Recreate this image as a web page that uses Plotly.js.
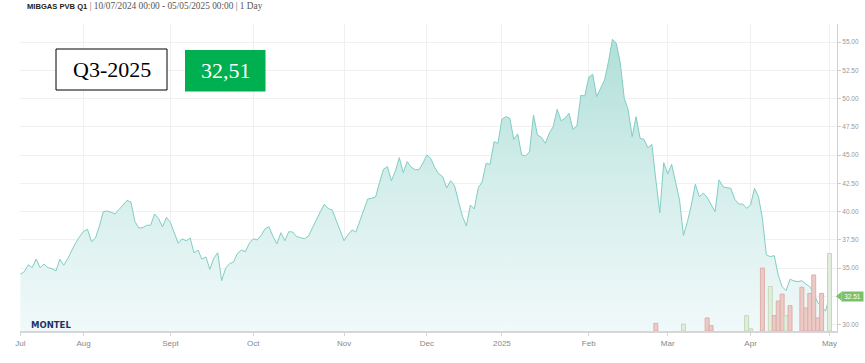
<!DOCTYPE html>
<html>
<head>
<meta charset="utf-8">
<script src="https://cdn.plot.ly/plotly-3.0.1.min.js"></script>
<style>
html,body{margin:0;padding:0;background:#fff;}
#chart{width:865px;height:363px;}
</style>
</head>
<body>
<div id="chart"></div>
<script>
// ---- data ----
const startDate = '2024-07-10';
const endDate = '2025-05-02';
const holidays = ['2024-12-24','2024-12-25','2024-12-26','2025-01-01','2025-04-18','2025-04-21','2025-05-01'];
const monthLabels = ['Jul','Aug','Sept','Oct','Nov','Dec','2025','Feb','Mar','Apr','May'];
const prices = [
34.46,34.69,35.31,35.05,35.81,35.04,35.37,35.04,34.96,34.75,
35.79,35.26,35.85,36.6,37.25,37.8,38.25,38.44,37.35,37.65,
38.7,40.0,40.06,39.95,39.8,40.2,40.6,41.0,40.85,39.15,
38.55,38.6,38.8,38.8,39.8,39.4,38.65,39.5,39.05,38.1,
37.2,37.6,37.41,37.67,36.35,36.6,35.8,36.0,34.9,35.88,
36.37,33.9,35.0,35.4,35.55,36.3,36.6,36.46,37.2,37.6,
37.5,37.9,38.5,38.67,37.8,37.15,38.14,37.43,38.23,38.2,
37.8,37.7,37.6,37.85,38.6,39.25,40.0,40.65,40.28,40.15,
39.3,38.45,37.43,37.95,38.38,38.2,39.2,40.2,41.12,41.19,
41.3,42.6,43.75,43.98,42.74,43.6,44.78,43.45,44.43,43.95,
43.72,43.72,44.3,45.02,44.7,43.9,43.35,43.1,42.1,42.74,
42.3,40.9,39.6,38.73,40.59,40.24,42.1,42.65,44.28,44.19,
46.19,46.05,48.18,48.41,48.27,46.4,46.88,45.02,44.93,45.31,
48.56,46.79,46.58,46.05,46.94,47.52,49.06,48.05,48.27,48.71,
47.29,47.58,50.3,50.24,51.89,52.16,50.18,50.92,51.65,53.27,
55.26,54.9,53.13,50.04,49.0,46.64,48.41,46.5,46.4,45.66,
45.96,42.81,39.91,44.34,43.34,44.19,42.65,41.04,37.9,39.12,
40.59,42.42,41.33,41.63,41.27,40.59,40.0,42.81,42.21,42.12,
42.07,41.1,40.68,40.68,40.3,40.59,42.07,41.33,39.42,36.17,
36.02,36.11,34.4,33.36,33.01,34.02,33.87,33.81,33.89,33.6,
33.36,32.83,31.95,31.59,31.2,32.51
];
const yTicks = [30,35,37.5,40,42.5,45,47.5,50,52.5,55];
const hiddenGrid = [32.5];
const volDates = ['2025-02-26','2025-03-07','2025-03-17','2025-03-18','2025-03-31','2025-04-01',
  '2025-04-04','2025-04-08','2025-04-09','2025-04-10','2025-04-11','2025-04-14','2025-04-15',
  '2025-04-22','2025-04-23','2025-04-24','2025-04-25','2025-04-28','2025-04-29','2025-05-02'];
const volValues = [10,9,17,7,20,3,82,58,20,39,48,20,33,57,30,49,73,17,49,101];
const volSide = ['down','up','down','down','up','up','down','up','down','down','down','up','down',
  'down','down','down','down','down','down','up'];
const contractLabel = 'Q3-2025';
const lastPrice = 32.51;
const lastPriceText = '32,51';
const titleMain = 'MIBGAS PVB Q1';
const titleRest = ' | 10/07/2024 00:00 - 05/05/2025 00:00 | 1 Day';

// ---- trading-day calendar ----
const dates = [];
{
  let d = new Date(startDate + 'T00:00:00Z');
  const end = new Date(endDate + 'T00:00:00Z');
  while (d <= end) {
    const s = d.toISOString().slice(0,10);
    const wd = d.getUTCDay();
    if (wd !== 0 && wd !== 6 && holidays.indexOf(s) < 0) dates.push(s);
    d = new Date(d.getTime() + 86400000);
  }
}
const tickvals = [];
dates.forEach((s,i)=>{ if (i===0 || s.slice(0,7)!==dates[i-1].slice(0,7)) tickvals.push(s); });

// ---- geometry helpers (pixel -> paper) ----
const W = 865, H = 363, ML = 20, MR = 28, MT = 24, MB = 32;
const PW = W-ML-MR, PH = H-MT-MB;
const px = x => (x-ML)/PW;
const py = y => (H-MB-y)/PH;

const upFill = 'rgb(226,237,221)', upLine = 'rgb(196,216,188)';
const dnFill = 'rgb(236,203,199)', dnLine = 'rgb(222,174,168)';

const traces = [
  {x: dates, y: prices, type:'scatter', mode:'lines', fill:'tozeroy',
   line:{width:0, color:'rgba(0,0,0,0)'},
   fillgradient:{type:'vertical', start:29.44, stop:55.5,
     colorscale:[[0,'rgb(241,249,250)'],[0.5,'rgb(212,238,235)'],[1,'rgb(176,223,216)']]},
   hoverinfo:'skip', showlegend:false},
  {x: volDates, y: volValues, type:'bar', yaxis:'y2', width:1,
   marker:{color: volSide.map(s=>s==='up'?upFill:dnFill),
           line:{color: volSide.map(s=>s==='up'?upLine:dnLine), width:1}},
   showlegend:false, hoverinfo:'skip'},
  {x: dates, y: prices, type:'scatter', mode:'lines',
   line:{width:1, color:'rgb(128,206,195)'}, showlegend:false, hoverinfo:'skip'}
];

const shapes = hiddenGrid.map(v=>({type:'line', xref:'paper', yref:'y', x0:0, x1:1, y0:v, y1:v,
  line:{color:'#f0f0f0', width:1}, layer:'below'}));
shapes.push(
  {type:'rect', xref:'paper', yref:'paper', x0:px(56), x1:px(167), y0:py(90), y1:py(49),
   fillcolor:'#fff', line:{color:'#000', width:1}, layer:'above'},
  {type:'rect', xref:'paper', yref:'paper', x0:px(185), x1:px(265.5), y0:py(91.5), y1:py(50),
   fillcolor:'#00b050', line:{width:0}, layer:'above'},
  {type:'path', xref:'paper', yref:'y',
   path:'M '+px(836)+' '+lastPrice+' L '+px(841.5)+' '+(lastPrice+0.4)+' L '+px(841.5)+' '+(lastPrice-0.4)+' Z',
   fillcolor:'#7cc168', line:{width:0}, layer:'above'}
);

const layout = {
  width: W, height: H,
  margin:{l:ML, r:MR, t:MT, b:MB, pad:0},
  paper_bgcolor:'#fff', plot_bgcolor:'#fff',
  font:{family:'Liberation Sans, Arial, sans-serif', size:8, color:'#888'},
  title:{text:'<b>'+titleMain+'</b><span style="font-family:Liberation Serif;font-size:9.3px;color:#555;font-weight:normal">'+titleRest+'</span>',
    xref:'container', yref:'container', x:27/W, xanchor:'left', y:1-6/H, yanchor:'middle',
    font:{family:'Liberation Sans, Arial, sans-serif', size:7.6, color:'#222'}},
  xaxis:{type:'category', range:[-0.1, 206.9], tickvals: tickvals, ticktext: monthLabels,
    showgrid:true, gridcolor:'#f0f0f0', gridwidth:1,
    showline:true, linecolor:'#d6d6d6', linewidth:2,
    ticks:'outside', ticklen:3, tickcolor:'#d6d6d6',
    tickfont:{size:8, color:'#888'}, zeroline:false, fixedrange:true},
  yaxis:{side:'right', range:[29.44, 56.61], tickvals: yTicks, tickformat:'.2f',
    showgrid:true, gridcolor:'#f0f0f0', zeroline:false,
    showline:true, linecolor:'#d0d0d0', linewidth:1,
    ticks:'outside', ticklen:3, tickcolor:'#cfcfcf',
    tickfont:{size:6.5, color:'#999'}, fixedrange:true},
  yaxis2:{overlaying:'y', range:[0,400], visible:false, fixedrange:true},
  bargap:0,
  shapes: shapes,
  annotations:[
    {xref:'paper', yref:'paper', x:px(111.5), y:py(70), text:contractLabel, showarrow:false,
     xanchor:'center', yanchor:'middle',
     font:{family:'Liberation Serif, serif', size:22, color:'#000'}},
    {xref:'paper', yref:'paper', x:px(225.5), y:py(71), text:lastPriceText, showarrow:false,
     xanchor:'center', yanchor:'middle',
     font:{family:'Liberation Serif, serif', size:22, color:'#fff'}},
    {xref:'paper', yref:'paper', x:px(29), y:py(324.7), text:'<b>MONTEL</b>', showarrow:false,
     xanchor:'left', yanchor:'middle',
     font:{family:'DejaVu Sans, sans-serif', size:8.5, color:'#1d3466'}},
    {xref:'paper', yref:'y', x:px(841), y:lastPrice, text:lastPrice.toFixed(2), showarrow:false,
     xanchor:'left', yanchor:'middle', bgcolor:'#7cc168', borderpad:1, width:19,
     font:{family:'Liberation Sans, Arial, sans-serif', size:6.5, color:'#fff'}}
  ]
};

Plotly.newPlot('chart', traces, layout, {displayModeBar:false, staticPlot:true});
</script>
</body>
</html>
